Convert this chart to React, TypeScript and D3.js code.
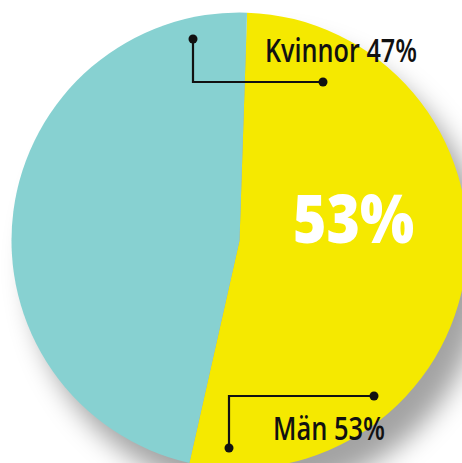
import { useEffect, useRef } from 'react';
import * as d3 from 'd3';

const categories = ['Män', 'Kvinnor'];
const shares = [53, 47];
const sliceColors = ['#f5e900', '#87d1d1'];
const bigLabel = '53%';

const W = 462;
const H = 463;

export default function App() {
  const svgRef = useRef<SVGSVGElement>(null);

  useEffect(() => {
    if (!svgRef.current) return;
    const svg = d3.select(svgRef.current);
    svg.selectAll('*').remove();

    const cx = 239.5;
    const cy = 240.5;
    const r = 228;
    const start = (1.9 * Math.PI) / 180;

    // soft drop shadow under the disc
    const defs = svg.append('defs');
    defs
      .append('filter')
      .attr('id', 'shadow')
      .attr('x', '-30%')
      .attr('y', '-30%')
      .attr('width', '160%')
      .attr('height', '160%')
      .append('feGaussianBlur')
      .attr('stdDeviation', 13);

    svg
      .append('circle')
      .attr('cx', cx + 18)
      .attr('cy', cy + 26)
      .attr('r', r)
      .attr('fill', '#000')
      .attr('fill-opacity', 0.36)
      .attr('filter', 'url(#shadow)');

    const pie = d3
      .pie<number>()
      .sort(null)
      .value((d) => d)
      .startAngle(start)
      .endAngle(start + Math.PI * 2);

    const arc = d3.arc<d3.PieArcDatum<number>>().innerRadius(0).outerRadius(r);

    svg
      .append('g')
      .attr('transform', `translate(${cx},${cy})`)
      .selectAll('path')
      .data(pie(shares))
      .join('path')
      .attr('d', arc)
      .attr('fill', (_d, i) => sliceColors[i]);

    // big value on the yellow slice
    svg
      .append('text')
      .attr('x', 293)
      .attr('y', 243)
      .attr('textLength', 121)
      .attr('lengthAdjust', 'spacingAndGlyphs')
      .style('font-family', 'Open Sans, sans-serif')
      .style('font-weight', 800)
      .style('font-size', '68px')
      .style('fill', '#fff')
      .text(bigLabel);

    const lines = svg.append('g').attr('stroke', '#111').attr('stroke-width', 2.2).attr('fill', 'none');
    const dots = svg.append('g').attr('fill', '#111');

    // Kvinnor leader
    lines.append('path').attr('d', 'M193,39 V82 H323');
    dots.append('circle').attr('cx', 193).attr('cy', 39).attr('r', 4.5);
    dots.append('circle').attr('cx', 323).attr('cy', 82).attr('r', 4.5);

    // Män leader
    lines.append('path').attr('d', 'M374,396 H229 V448');
    dots.append('circle').attr('cx', 374).attr('cy', 396).attr('r', 4.5);
    dots.append('circle').attr('cx', 229).attr('cy', 448).attr('r', 4.5);

    const label = (x: number, y: number, len: number, txt: string) =>
      svg
        .append('text')
        .attr('x', x)
        .attr('y', y)
        .attr('textLength', len)
        .attr('lengthAdjust', 'spacingAndGlyphs')
        .style('font-family', 'Open Sans, sans-serif')
        .style('font-weight', 600)
        .style('font-size', '33px')
        .style('fill', '#111')
        .text(txt);

    label(265, 62, 152, `${categories[1]} ${shares[1]}%`);
    label(273, 440, 112, `${categories[0]} ${shares[0]}%`);
  }, []);

  return (
    <svg
      ref={svgRef}
      width={W}
      height={H}
      style={{ position: 'absolute', left: 0, top: 0, background: '#fff', overflow: 'hidden' }}
    />
  );
}
